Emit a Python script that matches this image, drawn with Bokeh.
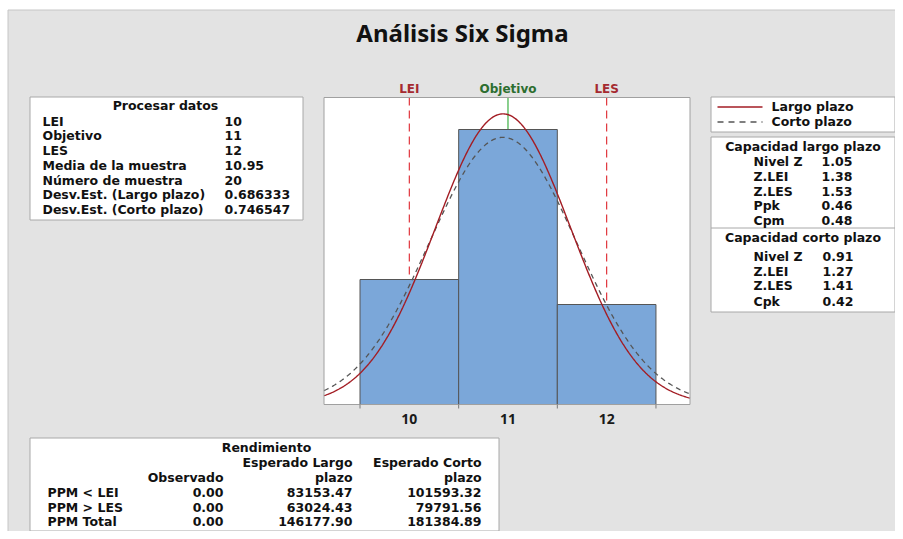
import numpy as np
from bokeh.plotting import figure
from bokeh.models import Range1d, ColumnDataSource
from bokeh.core.properties import value
from bokeh.embed import file_html
from bokeh.resources import INLINE

# ---------------- data ----------------
bin_centers = [10, 11, 12]
counts = [5, 11, 4]
bin_width = 1.0
LEI, OBJETIVO, LES = 10, 11, 12
media = 10.95
n = 20
sd_largo = 0.686333
sd_corto = 0.746547
tick_values = [10, 11, 12]
tick_labels = ["10", "11", "12"]
bin_edges = [9.5, 10.5, 11.5, 12.5]

proc_labels = ["LEI", "Objetivo", "LES", "Media de la muestra", "Número de muestra",
               "Desv.Est. (Largo plazo)", "Desv.Est. (Corto plazo)"]
proc_values = ["10", "11", "12", "10.95", "20", "0.686333", "0.746547"]

cap_lp_labels = ["Nivel Z", "Z.LEI", "Z.LES", "Ppk", "Cpm"]
cap_lp_values = ["1.05", "1.38", "1.53", "0.46", "0.48"]
cap_cp_labels = ["Nivel Z", "Z.LEI", "Z.LES", "Cpk"]
cap_cp_values = ["0.91", "1.27", "1.41", "0.42"]

rend_rows = ["PPM < LEI", "PPM > LES", "PPM Total"]
rend_obs = ["0.00", "0.00", "0.00"]
rend_lp = ["83153.47", "63024.43", "146177.90"]
rend_cp = ["101593.32", "79791.56", "181384.89"]

# ---------------- layout (page pixel coords) ----------------
W, H = 895, 531
X0, Y0 = 0, 0
FL, FR, FT, FB = 323.5, 689.5, 97, 404      # histogram frame
x_lo, x_hi = 9.135, 12.845                   # histogram view range
y_lo, y_hi = 0.0, 12.28

sx = (FR - FL) / (x_hi - x_lo)
sy = (FB - FT) / (y_hi - y_lo)
hx = Range1d(x_lo - (FL - X0) / sx, x_hi + (X0 + W - FR) / sx)
hy = Range1d(y_lo - (Y0 + H - FB) / sy, y_hi + (FT - Y0) / sy)

p = figure(width=W, height=H, x_range=Range1d(X0, X0 + W), y_range=Range1d(Y0 + H, Y0),
           output_backend="svg", toolbar_location=None, title=None,
           x_axis_location=None, y_axis_location=None, min_border=0)
p.extra_x_ranges = {"hx": hx}
p.extra_y_ranges = {"hy": hy}
p.grid.visible = False
p.outline_line_color = None
p.background_fill_color = "white"
p.border_fill_color = "white"

FONT = value("DejaVu Sans")
TFONT = value("Noto Sans")
TXT = "#111111"
BORDER = "#a8a8a8"
FS = "12.5px"

# background
p.quad(left=7.5, right=X0 + W + 1, top=9.5, bottom=Y0 + H + 1,
       fill_color="#e3e3e3", line_color="#c6c6c6")

# panels
p.quad(left=[29.5, 710.5, 710.5, 29.5], right=[302.5, 894.5, 894.5, 498.5],
       top=[96.5, 96.5, 136.5, 437.5], bottom=[219.5, 131.5, 311.5, 530.5],
       fill_color="white", line_color=BORDER)
p.segment(x0=710.5, x1=894.5, y0=227.5, y1=227.5, line_color=BORDER)

# histogram frame
p.quad(left=FL, right=FR, top=FT, bottom=FB, fill_color="white", line_color=None)

# spec lines (behind bars)
p.segment(x0=[LEI, LES], x1=[LEI, LES], y0=FT, y1=FB, x_range_name="hx",
          line_color="#e0353c", line_width=1.2, line_dash="8 5")
p.segment(x0=[OBJETIVO], x1=[OBJETIVO], y0=FT, y1=FB, x_range_name="hx",
          line_color="#3cb043", line_width=1.2)

# bars
bars = ColumnDataSource(dict(left=[c - bin_width / 2 for c in bin_centers],
                             right=[c + bin_width / 2 for c in bin_centers],
                             top=counts, bottom=[0] * len(counts)))
p.quad(left="left", right="right", top="top", bottom="bottom", source=bars,
       x_range_name="hx", y_range_name="hy",
       fill_color="#7ba7d9", line_color="#555555", line_width=1)

# fitted normal curves
xs = np.linspace(x_lo, x_hi, 400)
def curve(sd):
    return n * bin_width * np.exp(-0.5 * ((xs - media) / sd) ** 2) / (sd * np.sqrt(2 * np.pi))
p.line(xs, curve(sd_corto), x_range_name="hx", y_range_name="hy",
       line_color="#555555", line_width=1.3, line_dash="5 4")
p.line(xs, curve(sd_largo), x_range_name="hx", y_range_name="hy",
       line_color="#a31d24", line_width=1.4)

# frame outline
p.quad(left=FL, right=FR, top=FT, bottom=FB, fill_color=None, line_color="#a0a0a0")

# x ticks & labels
p.segment(x0=bin_edges, x1=bin_edges, y0=FB, y1=FB + 4, x_range_name="hx",
          line_color="#7a7a7a", line_width=1)
p.text(x=tick_values, y=[418] * 3, text=tick_labels, x_range_name="hx",
       text_font=TFONT, text_font_size="14px", text_font_style="bold",
       text_color="#1a1a1a", text_align="center", text_baseline="middle")

# spec labels
p.text(x=[LEI, OBJETIVO, LES], y=[88] * 3, text=["LEI", "Objetivo", "LES"], x_range_name="hx",
       text_font=FONT, text_font_size="12px", text_font_style="bold",
       text_color=["#a52a30", "#2d6e30", "#a52a30"], text_align="center", text_baseline="middle")

# title
p.text(x=[462], y=[32], text=["Análisis Six Sigma"], text_font=TFONT, text_font_size="24px",
       text_font_style="bold", text_color="#111111", text_align="center", text_baseline="middle")

def txt(x, y, t, align="left"):
    p.text(x=x, y=y, text=t, text_font=FONT, text_font_size=FS, text_font_style="bold",
           text_color=TXT, text_align=align, text_baseline="middle")

# Procesar datos
proc_y = [120.5, 135, 150, 164.5, 179.5, 194, 208.5]
txt([165], [105], ["Procesar datos"], "center")
txt([42] * 7, proc_y, proc_labels)
txt([224] * 7, proc_y, proc_values)

# legend
p.line([717, 762], [106.5, 106.5], line_color="#a31d24", line_width=1.6)
p.line([717, 762], [121.5, 121.5], line_color="#555555", line_width=1.6, line_dash="6 5")
txt([771, 771], [105.5, 120.5], ["Largo plazo", "Corto plazo"])

# capacidad
lp_y = [160.5, 175.5, 190.5, 205, 219.5]
cp_y = [256, 270.5, 285, 300.5]
txt([802.5], [146], ["Capacidad largo plazo"], "center")
txt([753] * 5, lp_y, cap_lp_labels)
txt([821] * 5, lp_y, cap_lp_values)
txt([802.5], [237], ["Capacidad corto plazo"], "center")
txt([753] * 4, cp_y, cap_cp_labels)
txt([822] * 4, cp_y, cap_cp_values)

# rendimiento
r_y = [491.5, 506.5, 520.5]
txt([266], [446.5], ["Rendimiento"], "center")
txt([352, 481], [462, 462], ["Esperado Largo", "Esperado Corto"], "right")
txt([223, 352, 481], [476.5] * 3, ["Observado", "plazo", "plazo"], "right")
txt([47] * 3, r_y, rend_rows)
txt([223] * 3, r_y, rend_obs, "right")
txt([352] * 3, r_y, rend_lp, "right")
txt([481] * 3, r_y, rend_cp, "right")

open("out.html", "w").write(file_html(p, INLINE))
